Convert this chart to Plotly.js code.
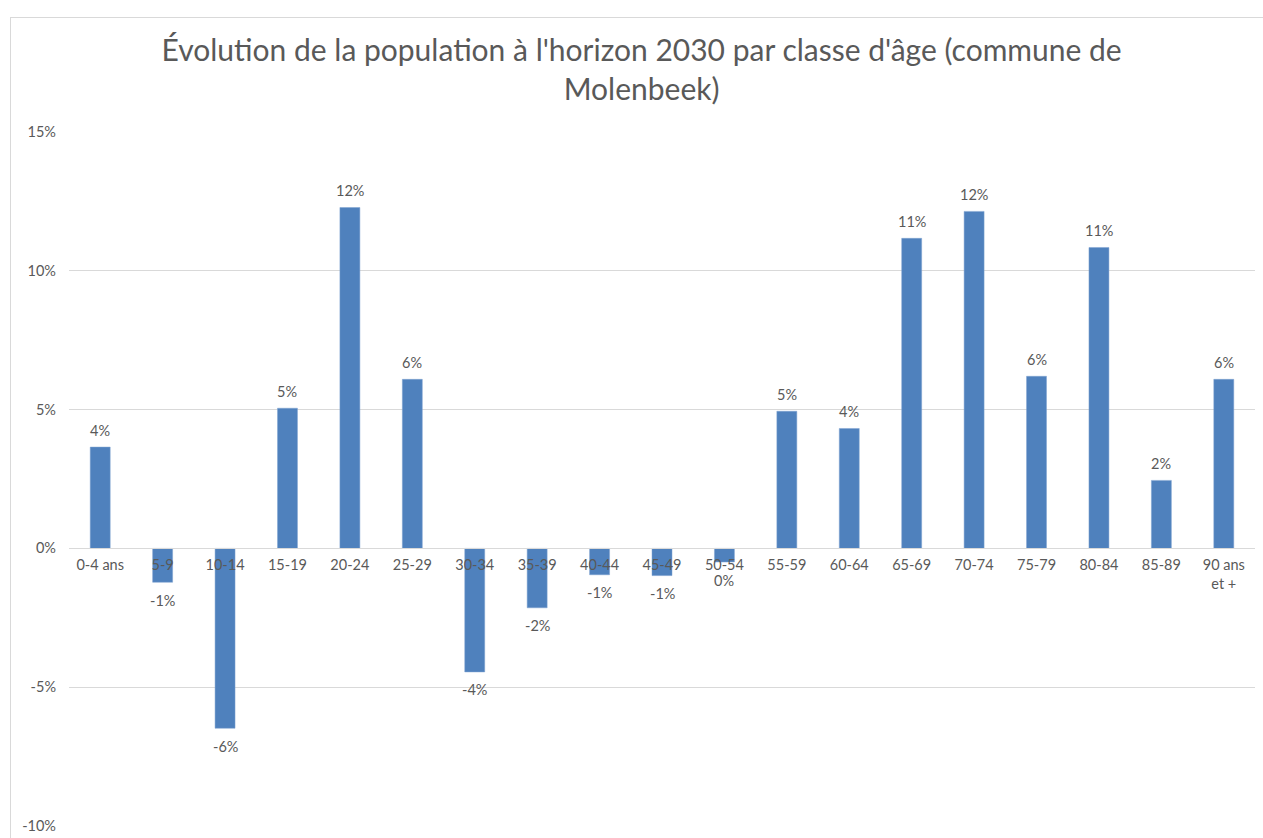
<!DOCTYPE html>
<html>
<head>
<meta charset="utf-8">
<script src="https://cdn.plot.ly/plotly-3.0.1.min.js"></script>
<style>
html,body{margin:0;padding:0;background:#fff;overflow:hidden;}
#frame{position:absolute;left:10px;top:17px;width:1300px;height:900px;border-left:1.5px solid #d9d9d9;border-top:1.5px solid #d9d9d9;box-sizing:border-box;}
#chart{position:absolute;left:0;top:0;width:1263px;height:838px;}
</style>
</head>
<body>
<div id="frame"></div>
<div id="chart"></div>
<script>
const categories = ["0-4 ans","5-9","10-14","15-19","20-24","25-29","30-34","35-39","40-44","45-49","50-54","55-59","60-64","65-69","70-74","75-79","80-84","85-89","90 ans<br>et +"];
const values = [3.65,-1.22,-6.48,5.05,12.28,6.09,-4.45,-2.14,-0.95,-0.98,-0.49,4.94,4.32,11.17,12.14,6.2,10.84,2.45,6.09];
const yTicks = [-10,-5,0,5,10,15];
const yTickLabels = ["-10%","-5%","0%","5%","10%","15%"];
const titleText = "Évolution de la population à l'horizon 2030 par classe d'âge (commune de<br>Molenbeek)";

const FONT = "Lato, 'Open Sans', sans-serif";
const GREY = "#595959";

const labels = values.map(v => { const r = Math.round(v); return (r === 0 ? 0 : r) + "%"; });

const annotations = categories.map((c, i) => ({
  x: c, y: values[i], xref: "x", yref: "y",
  text: labels[i], showarrow: false,
  yshift: values[i] >= 0 ? 17 : -18,
  font: {family: FONT, size: 14.5, color: GREY}
}));

const trace = {
  type: "bar",
  x: categories,
  y: values,
  marker: {color: "#4f81bd", line: {color: "#7fa3d0", width: 0.5}},
  width: 0.32,
  hoverinfo: "x+y"
};

const layout = {
  width: 1263, height: 838,
  margin: {l: 69, r: 8, t: 132, b: 12},
  paper_bgcolor: "rgba(0,0,0,0)",
  plot_bgcolor: "rgba(0,0,0,0)",
  showlegend: false,
  title: {
    text: titleText,
    x: 0.508, xref: "container", xanchor: "center",
    y: 0.927, yref: "container", yanchor: "top",
    font: {family: FONT, size: 30, color: GREY}
  },
  xaxis: {
    type: "category",
    anchor: "free",
    position: 0.4,
    showgrid: false,
    showline: true,
    linecolor: "#d9d9d9",
    linewidth: 1,
    ticks: "outside",
    ticklen: 3,
    tickcolor: "rgba(0,0,0,0)",
    tickfont: {family: FONT, size: 14.5, color: GREY},
    tickangle: 0,
    fixedrange: true
  },
  yaxis: {
    range: [-10, 15],
    tickvals: yTicks,
    ticktext: yTickLabels,
    showgrid: true,
    gridcolor: "#d9d9d9",
    gridwidth: 1,
    zeroline: true,
    zerolinecolor: "#d9d9d9",
    zerolinewidth: 1,
    showline: false,
    ticks: "",
    ticklabelstandoff: 12,
    tickfont: {family: FONT, size: 14.5, color: GREY},
    fixedrange: true
  },
  annotations: annotations
};

Plotly.newPlot("chart", [trace], layout, {displayModeBar: false, staticPlot: true});
</script>
</body>
</html>
